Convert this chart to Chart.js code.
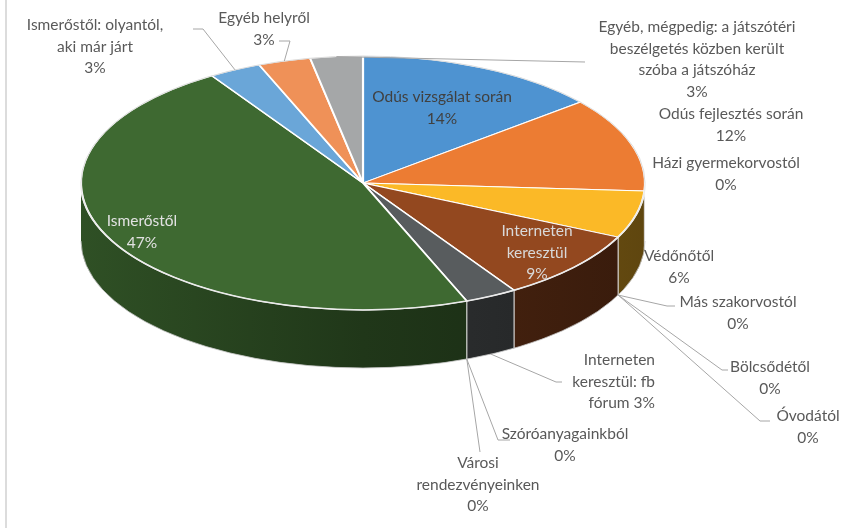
<!DOCTYPE html>
<html><head><meta charset="utf-8">
<script src="https://cdn.jsdelivr.net/npm/chart.js@4.4.0/dist/chart.umd.min.js"></script>
<style>html,body{margin:0;padding:0;background:#fff}</style>
</head><body>
<canvas id="c" width="849" height="528"></canvas>
<script>
// ---- data ----
const categories = [
  'Odús vizsgálat során',
  'Odús fejlesztés során',
  'Házi gyermekorvostól',
  'Védőnőtől',
  'Más szakorvostól',
  'Bölcsődétől',
  'Óvodától',
  'Interneten keresztül',
  'Interneten keresztül: fb fórum',
  'Szóróanyagainkból',
  'Városi rendezvényeinken',
  'Ismerőstől',
  'Ismerőstől: olyantól, aki már járt',
  'Egyéb helyről',
  'Egyéb, mégpedig: a játszótéri beszélgetés közben került szóba a játszóház'
];
const values = [14, 12, 0, 6, 0, 0, 0, 9, 3, 0, 0, 47, 3, 3, 3];
const valueLabels = ['14%','12%','0%','6%','0%','0%','0%','9%','3%','0%','0%','47%','3%','3%','3%'];
const labelLines = [
  ['Odús vizsgálat során'],
  ['Odús fejlesztés során'],
  ['Házi gyermekorvostól'],
  ['Védőnőtől'],
  ['Más szakorvostól'],
  ['Bölcsődétől'],
  ['Óvodától'],
  ['Interneten', 'keresztül'],
  ['Interneten', 'keresztül: fb', 'fórum ' ],
  ['Szóróanyagainkból'],
  ['Városi', 'rendezvényeinken'],
  ['Ismerőstől'],
  ['Ismerőstől: olyantól,', 'aki már járt'],
  ['Egyéb helyről'],
  ['Egyéb, mégpedig: a játszótéri', 'beszélgetés közben került', 'szóba a játszóház']
];

// ---- styles / layout ----
const sliceColors = ['#4E93D1','#EC7C33','#A5A5A5','#FBB927','#4472C4','#70AD47','#255E91',
  '#93481F','#585C5E','#997300','#264478','#3E6931','#6AA6D8','#EF9158','#A5A7A8'];
const GEO = { cx: 363, cy: 183, rx: 282, ry: 127, depth: 58 };
const FONT = '15.5px Lato, "Open Sans", sans-serif';
const LH = 21.5;
// label placement: x, y of first line centre, alignment, colour, leader elbow points, rim ('top'|'bottom')
const labelLayout = [
  { x: 442, y: 97,  align: 'center', color: '#404040' },
  { x: 731, y: 114, align: 'center', color: '#595959' },
  { x: 726, y: 163, align: 'center', color: '#595959' },
  { x: 679, y: 256, align: 'center', color: '#595959' },
  { x: 738, y: 302, align: 'center', color: '#595959', rim: 'bottom', leader: [[667, 306], [675, 306]] },
  { x: 770, y: 367, align: 'center', color: '#595959', rim: 'bottom', leader: [[722, 370], [728, 370]] },
  { x: 808, y: 416, align: 'center', color: '#595959', rim: 'bottom', leader: [[760, 421], [770, 421]] },
  { x: 537, y: 231, align: 'center', color: '#D9D9D9' },
  { x: 655, y: 360, align: 'right',  color: '#595959', rim: 'bottom', leader: [[556, 382], [562, 382]], inline: true },
  { x: 565, y: 434, align: 'center', color: '#595959', rim: 'bottom', leader: [[498, 440], [510, 440]] },
  { x: 478, y: 463, align: 'center', color: '#595959', rim: 'bottom', leader: [[480, 452]] },
  { x: 142, y: 221, align: 'center', color: '#E2E2E2' },
  { x: 95,  y: 25,  align: 'center', color: '#595959', rim: 'top', leader: [[203, 29], [193, 29]] },
  { x: 264, y: 18,  align: 'center', color: '#595959', rim: 'top', leader: [[290, 41], [279, 41]] },
  { x: 697, y: 27,  align: 'center', color: '#595959', rim: 'top', leader: [[585, 62]] }
];

function shade(hex, f) {
  const n = parseInt(hex.slice(1), 16);
  const r = Math.round(((n >> 16) & 255) * f), g = Math.round(((n >> 8) & 255) * f), b = Math.round((n & 255) * f);
  return `rgb(${r},${g},${b})`;
}

const pie3d = {
  id: 'pie3d',
  beforeDatasetsDraw(chart) {
    const ctx = chart.ctx;
    const arcs = chart.getDatasetMeta(0).data;
    const { cx, cy, rx, ry, depth } = GEO;
    // side walls (front half only)
    arcs.forEach((arc, i) => {
      const a = Math.max(arc.startAngle, 0), b = Math.min(arc.endAngle, Math.PI);
      if (b <= a) return;
      const col = sliceColors[i];
      const g = ctx.createLinearGradient(cx - rx, 0, cx + rx, 0);
      g.addColorStop(0, shade(col, 0.76));
      g.addColorStop(0.5, shade(col, 0.52));
      g.addColorStop(1, shade(col, 0.38));
      ctx.beginPath();
      ctx.ellipse(cx, cy, rx, ry, 0, a, b, false);
      ctx.lineTo(cx + rx * Math.cos(b), cy + ry * Math.sin(b) + depth);
      ctx.ellipse(cx, cy + depth, rx, ry, 0, b, a, true);
      ctx.closePath();
      ctx.fillStyle = g;
      ctx.fill();
    });
    // seams between walls
    ctx.strokeStyle = 'rgba(225,225,225,0.9)';
    ctx.lineWidth = 1.2;
    arcs.forEach((arc) => {
      const t = arc.endAngle;
      if (t > 0.02 && t < Math.PI - 0.02 && arc.endAngle > arc.startAngle) {
        const x = cx + rx * Math.cos(t), y = cy + ry * Math.sin(t);
        ctx.beginPath(); ctx.moveTo(x, y); ctx.lineTo(x, y + depth); ctx.stroke();
      }
    });
    // bottom outline of wall
    ctx.strokeStyle = 'rgba(200,200,200,0.8)';
    ctx.lineWidth = 1;
    ctx.beginPath(); ctx.ellipse(cx, cy + depth, rx, ry, 0, 0, Math.PI); ctx.stroke();
    // map the library's circular pie onto the tilted ellipse
    const a0 = arcs[0];
    const R = a0.outerRadius;
    ctx.save();
    ctx.translate(cx, cy);
    ctx.scale(rx / R, ry / R);
    ctx.translate(-a0.x, -a0.y);
  },
  afterDatasetsDraw(chart) {
    const ctx = chart.ctx;
    ctx.restore();
    const arcs = chart.getDatasetMeta(0).data;
    const { cx, cy, rx, ry, depth } = GEO;
    // rim highlight
    ctx.strokeStyle = 'rgba(235,235,235,0.95)';
    ctx.lineWidth = 1.6;
    ctx.beginPath(); ctx.ellipse(cx, cy, rx, ry, 0, 0, Math.PI); ctx.stroke();
    ctx.strokeStyle = 'rgba(215,215,215,0.9)';
    ctx.lineWidth = 1;
    ctx.beginPath(); ctx.ellipse(cx, cy, rx, ry, 0, Math.PI, 2 * Math.PI); ctx.stroke();

    // leader lines
    ctx.strokeStyle = '#A6A6A6';
    ctx.lineWidth = 1;
    labelLayout.forEach((L, i) => {
      if (!L.leader) return;
      const arc = arcs[i];
      const mid = (arc.startAngle + arc.endAngle) / 2;
      let x = cx + rx * Math.cos(mid), y = cy + ry * Math.sin(mid);
      if (L.rim === 'bottom') y += depth;
      ctx.beginPath();
      ctx.moveTo(x, y);
      L.leader.forEach(p => ctx.lineTo(p[0], p[1]));
      ctx.stroke();
    });

    // labels
    ctx.font = FONT;
    ctx.textBaseline = 'middle';
    labelLayout.forEach((L, i) => {
      ctx.fillStyle = L.color;
      ctx.textAlign = L.align;
      const lines = labelLines[i].slice();
      if (L.inline) lines[lines.length - 1] = lines[lines.length - 1] + valueLabels[i];
      else lines.push(valueLabels[i]);
      lines.forEach((t, k) => ctx.fillText(t, L.x, L.y + k * LH));
    });
  },
  afterDraw(chart) {
    const ctx = chart.ctx;
    ctx.fillStyle = '#DCDCDC';
    ctx.fillRect(5, 0, 2, chart.height);
  }
};

new Chart(document.getElementById('c'), {
  type: 'pie',
  data: {
    labels: categories,
    datasets: [{ data: values, backgroundColor: sliceColors, borderColor: '#FFFFFF', borderWidth: 2, clip: false }]
  },
  options: {
    responsive: false,
    animation: false,
    events: [],
    plugins: { legend: { display: false }, tooltip: { enabled: false } }
  },
  plugins: [pie3d]
});
</script>
</body></html>
